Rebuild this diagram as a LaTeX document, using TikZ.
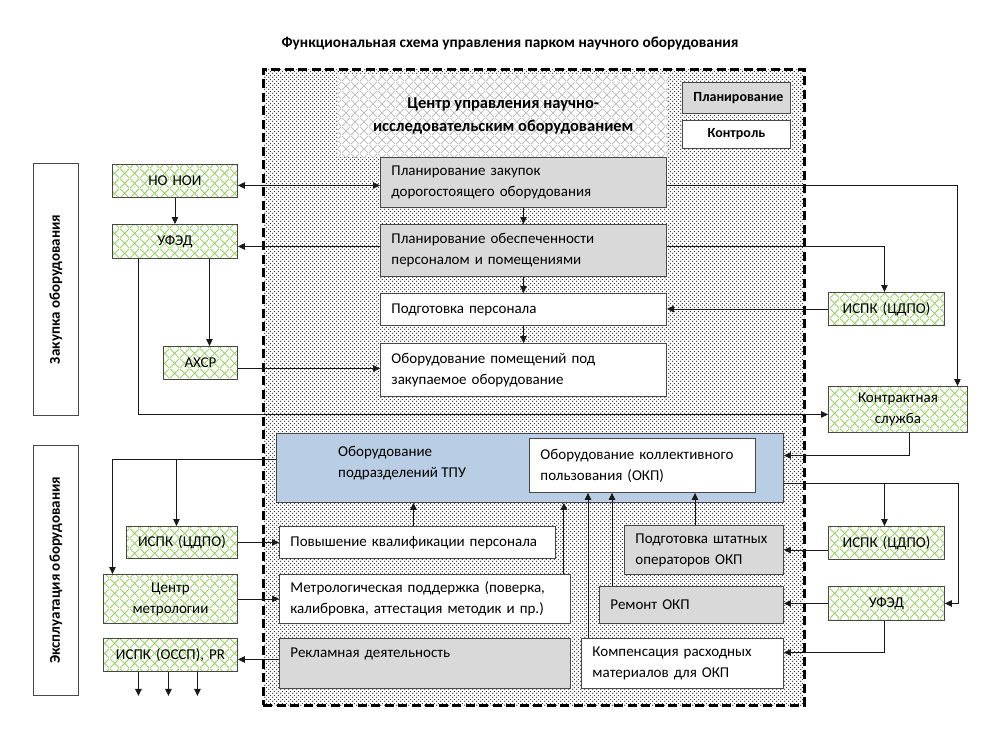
\documentclass[tikz,border=0pt]{standalone}
\usepackage{fontspec}
\setmainfont{Carlito}
\usetikzlibrary{arrows.meta,patterns.meta}
\definecolor{gbfill}{RGB}{217,217,217}
\definecolor{bluefill}{RGB}{185,205,229}
\definecolor{hatchgreen}{RGB}{155,210,100}
\definecolor{hatchgray}{RGB}{185,185,185}
\tikzdeclarepattern{name=dotsp, type=uncolored, bottom left={(0pt,0pt)}, top right={(4pt,4pt)}, tile size={(4pt,4pt)},
  code={\fill (1pt,1pt) circle (0.8pt); \fill (3pt,3pt) circle (0.8pt);}}
\tikzdeclarepattern{name=greenx, type=uncolored, bottom left={(0pt,0pt)}, top right={(10pt,10pt)}, tile size={(10pt,10pt)},
  code={\draw[line width=1pt] (0pt,0pt)--(10pt,10pt) (0pt,10pt)--(10pt,0pt);}}
\tikzdeclarepattern{name=grayx, type=uncolored, bottom left={(0pt,0pt)}, top right={(9pt,9pt)}, tile size={(9pt,9pt)},
  code={\draw[line width=0.8pt] (0pt,0pt)--(9pt,9pt) (0pt,9pt)--(9pt,0pt);}}
\tikzset{
  every node/.style={font=\fontsize{15}{21}\selectfont},
  box/.style={draw=black!72, line width=0.9pt, fill=white, inner xsep=11pt, inner ysep=1pt, align=left},
  gbox/.style={box, fill=gbfill},
  bbox/.style={box, fill=bluefill},
  ext/.style={box, align=center, preaction={fill=white}, pattern={greenx}, pattern color=hatchgreen},
  legend/.style={box, align=center, font=\fontsize{14}{17}\selectfont\bfseries},
  sidebox/.style={box},
  sidetext/.style={rotate=90, font=\fontsize{15}{18}\selectfont\bfseries},
  centre/.style={inner sep=0pt, align=center, preaction={fill=white}, pattern={grayx}, pattern color=hatchgray,
     font=\fontsize{16.5}{23}\selectfont\bfseries},
  outerbox/.style={draw=black, line width=2.6pt, dash pattern=on 9pt off 4.5pt, preaction={fill=white},
     pattern={dotsp}, pattern color=black!85, inner sep=0pt},
  conn/.style={draw=black!90, line width=0.9pt, -{Triangle[length=7pt,width=6.5pt]}},
  conn2/.style={draw=black!90, line width=0.9pt, {Triangle[length=7pt,width=6.5pt]}-{Triangle[length=7pt,width=6.5pt]}},
}
\newcommand\bx[7]{%
  \pgfmathsetmacro\bxw{#5-#3}\pgfmathsetmacro\bxh{#6-#4}\pgfmathsetmacro\bxt{#5-#3-22}%
  \node[#2, anchor=north west, minimum width=\bxw pt, minimum height=\bxh pt, text width=\bxt pt] (#1) at (#3,#4) {#7};}
\begin{document}
\begin{tikzpicture}[x=1pt,y=-1pt]
\useasboundingbox (0,0) rectangle (1000,738);
% title
\node[font=\fontsize{15.3}{18}\selectfont\bfseries] (title) at (510,43) {Функциональная схема управления парком научного оборудования};
% outer dashed area
\node[outerbox, anchor=north west, minimum width=541pt, minimum height=636pt] (outer) at (262,68) {};
% centre
\node[centre, anchor=north west, minimum width=330pt, minimum height=82pt] (cent) at (338,75) {Центр управления научно-\\исследовательским оборудованием};
% legend
\bx{lplan}{legend, fill=gbfill}{682}{82}{790}{113}{Планирование}
\bx{lkontr}{legend}{682}{120}{790}{148}{Контроль}
% side boxes
\bx{zak}{sidebox}{33}{163}{78}{415}{}
\node[sidetext] (zakt) at (zak) {Закупка оборудования};
\bx{expl}{sidebox}{33}{445}{78}{695}{}
\node[sidetext] (explt) at (expl) {Эксплуатация оборудования};
% left upper externals
\bx{nonoi}{ext}{112}{164}{237}{197}{НО НОИ}
\bx{ufed1}{ext}{112}{224}{237}{258}{УФЭД}
\bx{ahsr}{ext}{163}{346}{237}{379}{АХСР}
% centre column
\bx{pz}{gbox}{380}{157}{666}{207}{Планирование закупок\\дорогостоящего оборудования}
\bx{po}{gbox}{380}{224}{666}{276}{Планирование обеспеченности\\персоналом и помещениями}
\bx{pp}{box}{380}{293}{666}{325}{Подготовка персонала}
\bx{op}{box}{380}{343}{666}{396}{Оборудование помещений под\\закупаемое оборудование}
% right upper externals
\bx{ispk1}{ext}{828}{292}{944}{325}{ИСПК (ЦДПО)}
\bx{ks}{ext}{828}{386}{967}{432}{Контрактная\\служба}
% operation block
\bx{tpu}{bbox}{276}{433}{783}{502}{}
\node[align=left, anchor=west, inner sep=0pt] (tput) at (338,463) {Оборудование\\подразделений ТПУ};
\bx{okp}{box}{529}{438}{755}{492}{Оборудование коллективного\\пользования (ОКП)}
\bx{pk}{box}{279}{526}{555}{558}{Повышение квалификации персонала}
\bx{mp}{box}{279}{574}{570}{623}{Метрологическая поддержка (поверка,\\калибровка, аттестация методик и пр.)}
\bx{rd}{gbox}{279}{638}{570}{688}{Рекламная деятельность\\\mbox{}}
\bx{pso}{gbox}{624}{525}{783}{574}{Подготовка штатных\\операторов ОКП}
\bx{rem}{gbox}{599}{586}{783}{623}{Ремонт ОКП}
\bx{komp}{box}{581}{638}{783}{688}{Компенсация расходных\\материалов для ОКП}
% right lower externals
\bx{ispk2}{ext}{828}{526}{944}{559}{ИСПК (ЦДПО)}
\bx{ufed2}{ext}{828}{586}{944}{620}{УФЭД}
% left lower externals
\bx{ispk3}{ext}{126}{526}{237}{558}{ИСПК (ЦДПО)}
\bx{cm}{ext}{103}{574}{237}{623}{Центр\\метрологии}
\bx{ossp}{ext}{103}{638}{237}{671}{ИСПК (ОССП), PR}
% ---------- connectors, upper part
\coordinate (a1) at ([yshift=-4.5pt]nonoi.east);
\draw[conn2] (a1) -- (pz.west |- a1);
\draw[conn] (nonoi.south) -- (ufed1.north);
\coordinate (a3) at ([yshift=-5pt]ufed1.east);
\draw[conn] (po.west |- a3) -- (a3);
\coordinate (a4) at ([xshift=9pt]ahsr.north);
\draw[conn] (ufed1.south -| a4) -- (a4);
\coordinate (a5) at ([yshift=-5.5pt]ahsr.east);
\draw[conn] (a5) -- (op.west |- a5);
\coordinate (a6) at ([xshift=-36.5pt]ufed1.south);
\coordinate (a6e) at ([yshift=-5pt]ks.west);
\draw[conn] (a6) |- (a6e);
\coordinate (a7) at ([yshift=-3pt]pz.east);
\coordinate (a7e) at ([xshift=59.5pt]ks.north);
\draw[conn] (a7) -| (a7e);
\coordinate (a8e) at ([xshift=-2pt]ispk1.north);
\draw[conn] (po.east |- a3) -| (a8e);
\draw[conn] (ispk1.west) -- (pp.east |- ispk1.west);
\draw[conn] (pz.south) -- (po.north);
\draw[conn] (po.south) -- (pp.north);
\draw[conn] (pp.south) -- (op.north);
% ---------- connectors, lower part
\coordinate (b1) at ([xshift=11.5pt]ks.south);
\coordinate (b1e) at ([yshift=12.5pt]tpu.east);
\draw[conn] (b1) |- (b1e);
\coordinate (b2) at ([yshift=-15.5pt]tpu.east);
\coordinate (b2r) at ([xshift=14pt]ufed2.east);
\draw[conn] (b2) -| (b2r) -- (ufed2.east);
\coordinate (b3e) at ([xshift=-2pt]ispk2.north);
\draw[conn] (b3e |- b2) -- (b3e);
\draw[conn] (ispk2.west |- pso.east) -- (pso.east);
\draw[conn] (ufed2.west) -- (rem.east |- ufed2.west);
\coordinate (b6) at ([xshift=-2pt]ufed2.south);
\coordinate (b6e) at ([yshift=11pt]komp.east);
\draw[conn] (b6) |- (b6e);
\coordinate (c1) at ([yshift=8.5pt]tpu.west);
\coordinate (c1e) at ([xshift=-58pt]cm.north);
\draw[conn] (c1) -| (c1e);
\coordinate (c2e) at ([xshift=-5.5pt]ispk3.north);
\draw[conn] (c2e |- c1) -- (c2e);
\draw[conn] (ispk3.east) -- (pk.west |- ispk3.east);
\draw[conn] (cm.east) -- (mp.west |- cm.east);
\coordinate (c5) at ([yshift=-4.5pt]ossp.east);
\draw[conn] (rd.west |- c5) -- (c5);
\draw[conn] ([xshift=-32pt]ossp.south) -- ++(0,24);
\draw[conn] ([xshift=-2pt]ossp.south) -- ++(0,24);
\draw[conn] ([xshift=27pt]ossp.south) -- ++(0,24);
\coordinate (d1) at ([xshift=-4pt]pk.north);
\draw[conn] (d1) -- (tpu.south -| d1);
\coordinate (d2) at ([xshift=-7pt]mp.north east);
\draw[conn] (d2) -- (tpu.south -| d2);
\coordinate (d3) at ([xshift=7pt]komp.north west);
\draw[conn] (d3) -- (okp.south -| d3);
\coordinate (d4) at ([xshift=13pt]rem.north west);
\draw[conn] (d4) -- (okp.south -| d4);
\coordinate (d5) at ([xshift=71pt]pso.north west);
\draw[conn] (d5) -- (okp.south -| d5);
\end{tikzpicture}
\end{document}
